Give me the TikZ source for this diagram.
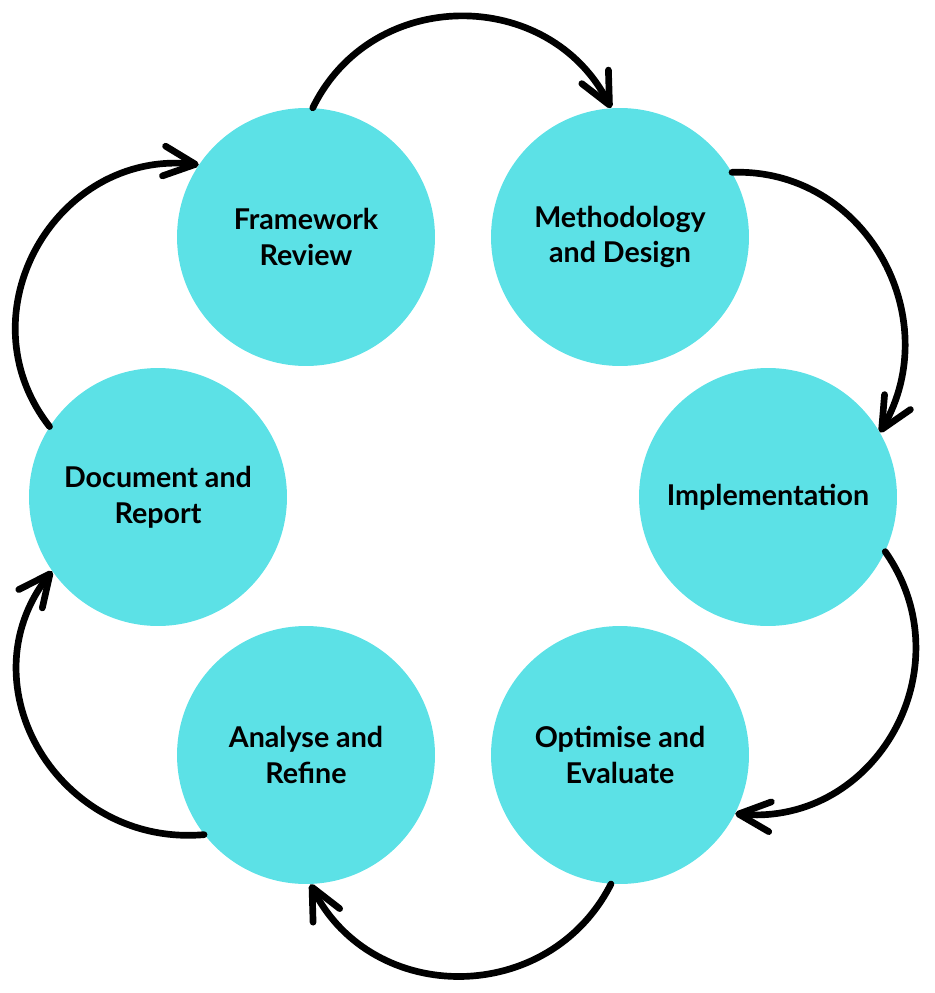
\documentclass[tikz,border=0pt]{standalone}
\usepackage{fontspec}
\setmainfont{Lato}
\usetikzlibrary{arrows.meta}
\definecolor{stagecyan}{HTML}{5CE1E6}

\begin{document}
\begin{tikzpicture}[x=0.02cm, y=-0.02cm,
  stage/.style={circle, fill=stagecyan, minimum size=5.16cm, inner sep=0pt,
    align=center, font=\fontsize{16.3}{20.3}\selectfont\bfseries},
  flow/.style={line width=3.8pt, line cap=round,
    -{Straight Barb[length=18pt, width=17pt, round]}}]
	\useasboundingbox (0, 0) rectangle (934, 993);
	\node[stage] (fr) at (306, 237) {Framework\\Review};
	\node[stage] (md) at (620, 237) {Methodology\\and Design};
	\node[stage] (im) at (768, 497) {Implementation};
	\node[stage] (oe) at (620, 755) {Optimise and\\Evaluate};
	\node[stage] (ar) at (306, 755) {Analyse and\\Refine};
	\node[stage] (dr) at (158, 497) {Document and\\Report};
	% cycle arrows
	\draw[flow] (fr.87) to[out=64, in=117, looseness=1.17] (md.94);
	\draw[flow] (md.30) to[out=2, in=60, looseness=1.14] (im.30);
	\draw[flow] (im.-25) to[out=-55, in=-5, looseness=1.2] (oe.-27);
	\draw[flow] (oe.-94) to[out=-117, in=-63, looseness=1.17] (ar.-88);
	\draw[flow] (ar.-142) to[out=185, in=-128, looseness=1.22] (dr.-145);
	\draw[flow] (dr.147) to[out=128, in=174, looseness=1.22] (fr.146);
\end{tikzpicture}
\end{document}
